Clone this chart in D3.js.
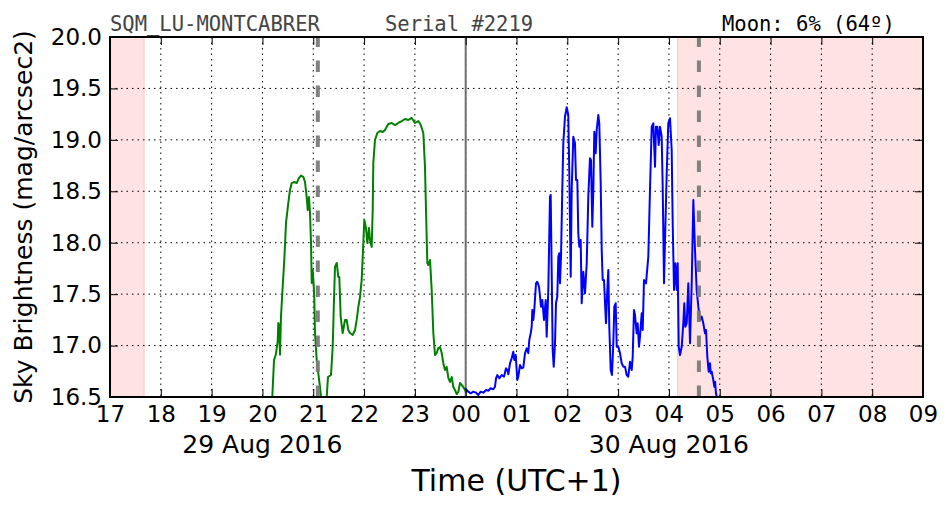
<!DOCTYPE html>
<html><head><meta charset="utf-8">
<script src="https://cdn.jsdelivr.net/npm/d3@7"></script>
<style>body{margin:0;background:#fff}svg{display:block}</style>
</head><body><svg id="c" width="952" height="512"></svg>
<script>
// ---- data (hours since 00:00 of 29 Aug 2016; >24 = 30 Aug) ----
const hourTicks = [17,18,19,20,21,22,23,24,25,26,27,28,29,30,31,32,33];
const magTicks = [16.5,17.0,17.5,18.0,18.5,19.0,19.5,20.0];
const dateLabels = ["29 Aug 2016","30 Aug 2016"];
const dateLabelTimes = [20,28];
const shadeStarts = [17.0, 28.17];
const shadeEnds = [17.67, 33.0];
const moonTimes = [21.09, 28.59];
const midnight = [24];
const titleTexts = ["SQM_LU-MONTCABRER","Serial #2219","Moon: 6% (64º)"];

const greenTime = [20.17,20.194,20.228,20.261,20.300,20.312,20.326,20.346,20.365,20.391,20.430,20.464,20.509,20.542,20.576,20.627,20.674,20.720,20.759,20.804,20.838,20.871,20.891,20.916,20.936,20.956,20.970,20.989,21.009,21.021,21.034,21.068,21.099,21.133,21.153,21.18,21.24,21.265,21.290,21.349,21.383,21.408,21.428,21.462,21.493,21.513,21.540,21.579,21.625,21.658,21.690,21.723,21.776,21.822,21.855,21.887,21.920,21.953,21.985,22.005,22.038,22.064,22.097,22.117,22.150,22.170,22.182,22.215,22.261,22.314,22.367,22.412,22.477,22.544,22.609,22.674,22.741,22.806,22.871,22.938,23.003,23.068,23.115,23.166,23.199,23.219,23.245,23.264,23.298,23.331,23.363,23.396,23.430,23.461,23.494,23.528,23.559,23.593,23.626,23.658,23.691,23.725,23.756,23.790,23.823,23.855,23.888,23.921,23.953,23.986,24.016];
const greenMag = [16.2,16.50,16.86,16.908,17.038,17.22,17.20,16.91,17.28,17.511,17.832,18.192,18.386,18.513,18.58,18.59,18.58,18.63,18.652,18.64,18.59,18.444,18.318,18.444,18.289,17.997,17.608,17.735,17.589,17.443,17.122,16.86,16.733,16.597,16.50,16.3,16.3,16.50,16.694,16.714,16.989,17.443,17.764,17.803,17.667,17.667,17.278,17.122,17.249,17.249,17.151,17.122,17.103,17.151,17.249,17.375,17.472,17.638,17.997,18.221,18.143,17.997,18.143,18.026,17.958,18.318,18.775,18.999,19.067,19.086,19.076,19.096,19.154,19.164,19.144,19.164,19.183,19.203,19.193,19.213,19.164,19.183,19.144,19.067,18.736,18.318,17.803,17.783,17.832,17.540,17.122,16.908,16.928,16.976,16.986,16.928,16.831,16.763,16.792,16.685,16.646,16.694,16.597,16.568,16.529,16.549,16.636,16.617,16.597,16.568,16.54];

const blueTime = [23.986,24.051,24.099,24.150,24.203,24.248,24.295,24.347,24.400,24.445,24.492,24.543,24.577,24.597,24.622,24.661,24.709,24.754,24.793,24.819,24.839,24.872,24.905,24.937,24.957,24.984,25.016,25.035,25.069,25.102,25.134,25.167,25.201,25.232,25.252,25.279,25.299,25.311,25.331,25.350,25.384,25.409,25.443,25.463,25.482,25.508,25.527,25.541,25.575,25.594,25.626,25.659,25.673,25.693,25.712,25.732,25.758,25.777,25.803,25.823,25.842,25.856,25.876,25.901,25.921,25.954,25.988,26.019,26.039,26.067,26.086,26.118,26.151,26.171,26.197,26.216,26.236,26.263,26.283,26.315,26.348,26.382,26.413,26.446,26.466,26.492,26.512,26.531,26.559,26.578,26.610,26.629,26.657,26.677,26.696,26.722,26.742,26.761,26.787,26.807,26.826,26.854,26.879,26.905,26.925,26.952,26.972,27.004,27.037,27.070,27.102,27.135,27.169,27.200,27.234,27.267,27.287,27.312,27.332,27.365,27.385,27.411,27.430,27.464,27.484,27.509,27.549,27.594,27.627,27.661,27.692,27.726,27.745,27.771,27.799,27.824,27.857,27.877,27.903,27.923,27.956,27.987,28.021,28.054,28.074,28.100,28.125,28.153,28.172,28.192,28.218,28.251,28.283,28.302,28.322,28.350,28.381,28.415,28.448,28.480,28.513,28.546,28.578,28.611,28.645,28.676,28.710,28.730,28.755,28.782,28.808,28.822,28.842,28.873,28.893,28.907,28.926,28.940,28.96];
const blueMag = [16.585,16.552,16.536,16.552,16.542,16.519,16.552,16.542,16.568,16.561,16.585,16.575,16.600,16.682,16.714,16.682,16.714,16.697,16.779,16.762,16.721,16.828,16.876,16.940,16.860,16.908,16.665,16.697,16.811,16.779,16.785,16.925,16.973,16.925,17.054,17.119,17.183,17.346,17.249,17.346,17.605,17.621,17.572,17.475,17.378,17.443,17.329,17.249,17.443,17.086,17.540,18.447,18.464,17.703,16.957,16.795,17.022,17.411,17.475,17.864,17.897,17.605,17.864,18.513,18.967,19.225,19.317,19.242,18.675,17.670,18.513,19.031,18.967,18.610,18.610,18.092,17.961,18.026,17.411,17.718,17.508,17.800,18.447,18.821,18.804,18.156,18.513,19.079,18.869,19.096,19.242,19.161,18.578,17.929,17.638,17.638,17.411,17.217,17.540,17.735,17.183,16.762,16.714,17.022,17.378,17.411,16.989,16.989,16.925,16.828,16.795,16.795,16.714,16.697,16.843,16.762,16.892,17.346,17.297,17.119,17.217,16.989,17.086,17.314,17.151,17.638,17.605,17.864,18.513,19.128,19.161,18.739,19.128,19.128,18.950,19.128,19.031,18.545,17.605,18.026,18.675,19.161,19.210,18.901,18.189,17.540,17.800,17.540,17.800,16.989,16.908,16.989,17.217,17.411,17.183,17.217,17.605,17.022,17.605,18.415,17.929,17.540,17.378,17.249,17.281,17.217,17.119,17.151,16.892,16.746,16.828,16.730,16.746,16.665,16.600,16.649,16.536,16.503,16.3];

// ---- drawing ----
const svg = d3.select("#c");
const L=110,R=923,T=37,B=397;
const x = d3.scaleLinear().domain([17,33]).range([L,R]);
const y = d3.scaleLinear().domain([16.5,20]).range([B,T]);
const SANS = "'DejaVu Sans', sans-serif", MONO = "'DejaVu Sans Mono', monospace";

svg.append("defs").append("clipPath").attr("id","clip")
  .append("rect").attr("x",L).attr("y",T).attr("width",R-L).attr("height",B-T);

// shaded twilight spans
shadeStarts.forEach((s,i)=>{
  svg.append("rect").attr("x",x(s)).attr("y",T).attr("width",x(shadeEnds[i])-x(s)).attr("height",B-T)
    .attr("fill","#ffe2e2").attr("stroke","#ffcccc").attr("stroke-width",1.2);
});

// grid
const g = svg.append("g");
g.selectAll("line.vg").data(hourTicks.slice(1,-1)).join("line")
  .attr("x1",d=>x(d)).attr("x2",d=>x(d)).attr("y1",T).attr("y2",B)
  .attr("stroke","#000").attr("stroke-width",1).attr("stroke-dasharray","1.5,4");
g.selectAll("line.hg").data(magTicks.slice(1,-1)).join("line")
  .attr("y1",d=>y(d)).attr("y2",d=>y(d)).attr("x1",L).attr("x2",R)
  .attr("stroke","#000").attr("stroke-width",1).attr("stroke-dasharray","1.5,4");

// midnight line
svg.selectAll("line.mid").data(midnight).join("line")
  .attr("x1",d=>x(d)).attr("x2",d=>x(d)).attr("y1",B).attr("y2",T)
  .attr("stroke","#6e6e6e").attr("stroke-width",2);

// data lines
const line = d3.line().x(d=>x(d[0])).y(d=>y(d[1]));
const cg = svg.append("g").attr("clip-path","url(#clip)");
cg.append("path").datum(greenTime.map((t,i)=>[t,greenMag[i]]))
  .attr("d",line).attr("fill","none").attr("stroke","#008000").attr("stroke-width",2).attr("stroke-linejoin","round");
cg.append("path").datum(blueTime.map((t,i)=>[t,blueMag[i]]))
  .attr("d",line).attr("fill","none").attr("stroke","#0000ff").attr("stroke-width",2).attr("stroke-linejoin","round");

// moon dashed lines
svg.selectAll("line.moon").data(moonTimes).join("line")
  .attr("x1",d=>x(d)).attr("x2",d=>x(d)).attr("y1",B).attr("y2",T)
  .attr("stroke","#7a7a7a").attr("stroke-opacity",0.95).attr("stroke-width",4).attr("stroke-dasharray","11.5,13.5");

// axes
const fmtH = d=>String(d%24).padStart(2,"0");
const ax = svg.append("g").attr("transform",`translate(0,${B})`)
  .call(d3.axisBottom(x).tickValues(hourTicks).tickFormat(fmtH).tickSize(-8).tickPadding(9));
const ay = svg.append("g").attr("transform",`translate(${L},0)`)
  .call(d3.axisLeft(y).tickValues(magTicks).tickFormat(d3.format(".1f")).tickSize(-8).tickPadding(8));
const axT = svg.append("g").attr("transform",`translate(0,${T})`)
  .call(d3.axisTop(x).tickValues(hourTicks).tickFormat("").tickSize(-8));
const ayR = svg.append("g").attr("transform",`translate(${R},0)`)
  .call(d3.axisRight(y).tickValues(magTicks).tickFormat("").tickSize(-8));
[ax,ay,axT,ayR].forEach(a=>{
  a.select(".domain").remove();
  a.selectAll(".tick line").attr("stroke","#000").attr("stroke-width",1);
  a.selectAll("text").style("font-family",SANS).style("font-size","23px").attr("fill","#000");
});
svg.append("rect").attr("x",L).attr("y",T).attr("width",R-L).attr("height",B-T)
  .attr("fill","none").attr("stroke","#000").attr("stroke-width",2);

// date labels
svg.selectAll("text.date").data(dateLabels).join("text")
  .attr("x",(d,i)=>x(dateLabelTimes[i])).attr("y",453).attr("text-anchor","middle")
  .style("font-family",SANS).style("font-size","25px").text(d=>d);

// axis titles
svg.append("text").attr("x",(L+R)/2).attr("y",491).attr("text-anchor","middle")
  .style("font-family",SANS).style("font-size","30px").text("Time (UTC+1)");
svg.append("text").attr("transform",`translate(32,${(T+B)/2}) rotate(-90)`).attr("text-anchor","middle")
  .style("font-family",SANS).style("font-size","25px").text("Sky Brightness (mag/arcsec2)");

// header
const hx=[110,385,722], hc=["#444","#444","#000"];
titleTexts.forEach((t,i)=>{
  svg.append("text").attr("x",hx[i]).attr("y",31)
    .style("font-family",MONO).style("font-size","20.5px").attr("fill",hc[i]).text(t);
});
</script></body></html>
